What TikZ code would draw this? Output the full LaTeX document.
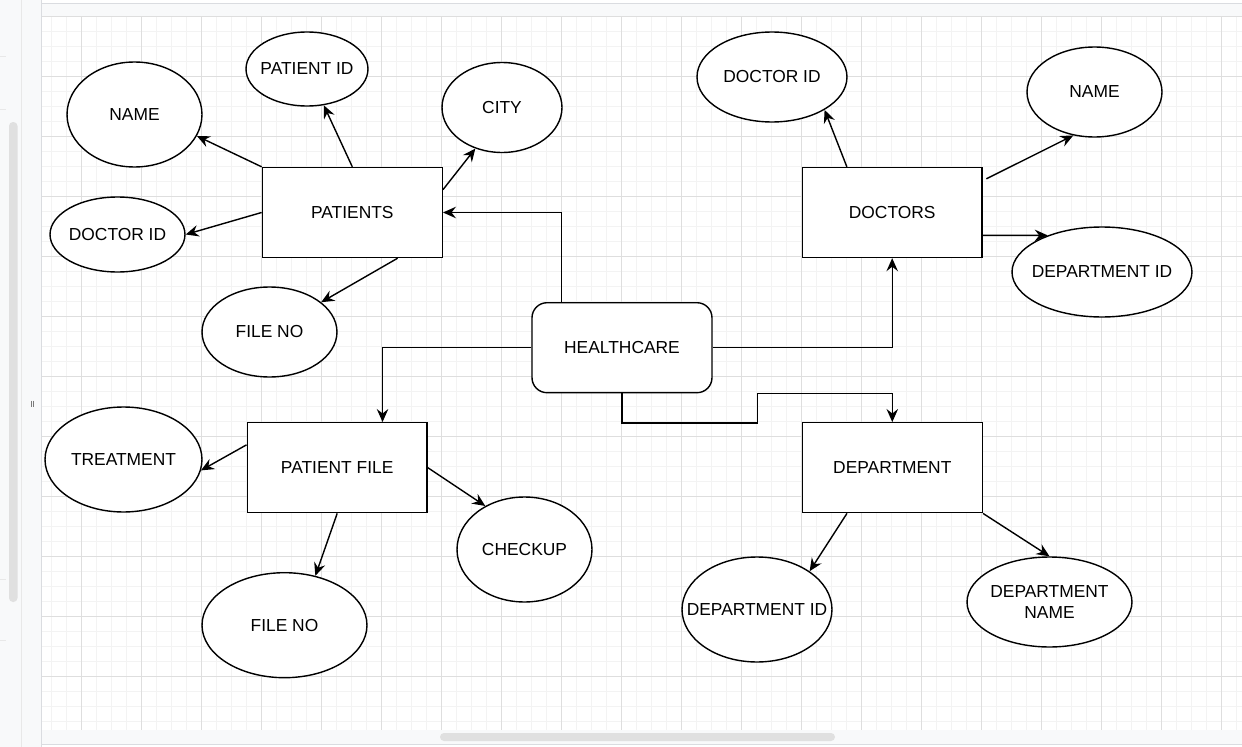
\documentclass[tikz,border=0pt]{standalone}
\usepackage{fontspec}
\setmainfont{Liberation Sans}
\usetikzlibrary{arrows.meta,calc,shapes.geometric}
\definecolor{Panel}{HTML}{F8F9FA}
\definecolor{PanelLine}{HTML}{E8E8E8}
\definecolor{Rule}{HTML}{DADCE0}
\definecolor{Thumb}{HTML}{E0E0E0}
\definecolor{Hint}{HTML}{7A7A7A}
\definecolor{GridMajor}{HTML}{DEDEDE}
\definecolor{GridMinor}{HTML}{F3F3F3}
\definecolor{Ink}{HTML}{000000}

\begin{document}
\begin{tikzpicture}[x=.02cm,y=-.02cm,>={Stealth[length=2.6mm,width=2.3mm,inset=.9mm]},every node/.style={font=\fontsize{9.9}{12.5}\selectfont,text=Ink,align=center},
entity/.style={draw,line width=.8pt,fill=white,minimum width=3.6cm,minimum height=1.8cm,inner sep=0pt},
attrib/.style={draw,ellipse,line width=.8pt,fill=white,inner xsep=-1cm,inner ysep=0pt},
conn/.style={->,line width=.8pt}]
\useasboundingbox(0,0)rectangle(1242,747);\fill[white](0,0)rectangle(1242,747);
% editor frame
\fill[Panel](0,0)rectangle(41.5,747);\draw[PanelLine,line width=.4pt](21.7,0)--(21.7,747);\draw[Rule,line width=.5pt](41.5,0)--(41.5,747);
\fill[Thumb,rounded corners=.08cm](9,122)rectangle(17.5,602);\foreach \y in {56.7,109,579,640}\draw[PanelLine,line width=.4pt](0,\y)--(6,\y);
\draw[Hint,line width=.5pt](31.3,400.5)--(31.3,407.3)(33.6,400.5)--(33.6,407.3);
\fill[Panel](41.5,3.5)rectangle(1242,16.7);\draw[Rule,line width=.5pt](41.5,3.5)--(1242,3.5);
\fill[Panel](41.5,730)rectangle(1242,744.3);\draw[Rule,line width=.5pt](41.5,744.3)--(1242,744.3);\fill[Thumb,rounded corners=.08cm](440,733)rectangle(835,741);
% grid
\foreach \x in {51.7,66.7,...,1237}\draw[GridMinor,line width=.55pt](\x,17)--(\x,730);\foreach \y in {31.7,46.7,...,722}\draw[GridMinor,line width=.55pt](42,\y)--(1242,\y);
\foreach \x in {81.7,141.7,...,1222}\draw[GridMajor,line width=.55pt](\x,17)--(\x,730);\foreach \y in {16.7,76.7,...,677}\draw[GridMajor,line width=.55pt](42,\y)--(1242,\y);
% entities
\node[entity](pat)at(352.3,212.5){PATIENTS};\node[entity](pf)at(337.2,467.7){PATIENT FILE};
\node[entity](doc)at(892.2,212.5){DOCTORS};\node[entity](dep)at(892.3,467.7){DEPARTMENT};
\node[entity,rounded corners=.3cm](hc)at(622,347.7){HEALTHCARE};
% attributes
\node[attrib,minimum width=2.7cm,minimum height=2.1cm](nm1)at(134.5,114.5){NAME};
\node[attrib,minimum width=2.44cm,minimum height=1.48cm](pid)at(307,69){PATIENT ID};
\node[attrib,minimum width=2.4cm,minimum height=1.8cm](cty)at(502,107.5){CITY};
\node[attrib,minimum width=2.7cm,minimum height=1.5cm](did1)at(117.5,234.5){DOCTOR ID};
\node[attrib,minimum width=2.7cm,minimum height=1.8cm](fn1)at(269.5,332){FILE NO};
\node[attrib,minimum width=3.14cm,minimum height=2.1cm](trt)at(123.5,459.5){TREATMENT};
\node[attrib,minimum width=2.7cm,minimum height=2.1cm](chk)at(524.5,549.5){CHECKUP};
\node[attrib,minimum width=3.3cm,minimum height=2.1cm](fn2)at(284.5,625.2){FILE NO};
\node[attrib,minimum width=3cm,minimum height=1.8cm](did2)at(772,77){DOCTOR ID};
\node[attrib,minimum width=2.7cm,minimum height=1.8cm](nm2)at(1094.5,92){NAME};
\node[attrib,minimum width=3.6cm,minimum height=1.8cm](dpi1)at(1102,272){DEPARTMENT ID};
\node[attrib,minimum width=3cm,minimum height=2.1cm](dpi2)at(757,609.5){DEPARTMENT ID};
\node[attrib,minimum width=3.3cm,minimum height=1.8cm](dpn)at(1049.5,602){DEPARTMENT\\NAME};
% links
\draw[conn](pat.north west)--(nm1.-19);\draw[conn](pat.north)--(pid);\draw[conn]($(pat.north east)!.25!(pat.south east)$)--(cty.237);
\draw[conn](pat.west)--(did1.east);\draw[conn]($(pat.south west)!.75!(pat.south east)$)--(fn1);
\draw[conn]($(pf.north west)!.25!(pf.south west)$)--(trt.-8);\draw[conn](pf.south)--(fn2.58);\draw[conn](pf.east)--(chk.132);
\draw[conn]($(doc.north west)!.25!(doc.north east)$)--(did2.-32);\draw[conn]($(doc.north east)+(3.5,12)$)--(nm2.244);\draw[conn]($(doc.north east)!.75!(doc.south east)$)--(dpi1.146);
\draw[conn]($(dep.south west)!.25!(dep.south east)$)--(dpi2.36);\draw[conn](dep.south east)--(dpn.north);
\draw[conn]($(hc.north west)!1/6!(hc.north east)$)|-(pat.east);\draw[conn](hc.west)-|($(pf.north west)!.75!(pf.north east)$);
\draw[conn](hc.east)-|(doc.south);\draw[conn](hc.south)--++(0,29.6)-|++(135.3,-29.6)-|(dep.north);
\end{tikzpicture}
\end{document}
